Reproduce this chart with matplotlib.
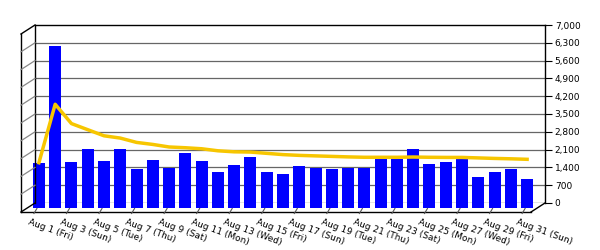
import numpy as np
import matplotlib.pyplot as plt
from matplotlib.lines import Line2D
from matplotlib.transforms import offset_copy
from matplotlib.ticker import FuncFormatter

days = ['Aug %d (%s)' % (d, w) for d, w in zip(range(1, 32),
        ['Fri', 'Sat', 'Sun', 'Mon', 'Tue', 'Wed', 'Thu'] * 5)]
tick_days = days[::2]

daily = [1760, 6350, 1800, 2320, 1840, 2320, 1530, 1880, 1570, 2160, 1840,
         1410, 1690, 2000, 1410, 1330, 1650, 1570, 1500, 1570, 1570, 1920,
         1920, 2320, 1730, 1800, 1920, 1210, 1410, 1500, 1130]
running_avg = [1760, 4060, 3300, 3060, 2820, 2730, 2560, 2480, 2380, 2350,
               2310, 2230, 2190, 2180, 2130, 2080, 2050, 2030, 2010, 1990,
               1975, 1975, 1975, 1985, 1975, 1970, 1970, 1950, 1930, 1915, 1895]

W, H = 600, 250
# back wall in pixels (from top-left)
left, right, top, bottom = 35, 545, 25, 203
DX, DY = -14, -9   # depth offset of the front plane (display dots)

fig = plt.figure(figsize=(6, 2.5), dpi=100)
ax = fig.add_axes([left / W, 1 - bottom / H, (right - left) / W, (bottom - top) / H])
ax.set_facecolor('white')

x = np.arange(len(daily))
ax.set_xlim(-0.67, len(daily) - 1 + 0.67)
ax.set_ylim(0, 7000)

yticks = np.arange(0, 7001, 700)
ax.set_yticks(yticks)
ax.yaxis.tick_right()
ax.yaxis.set_major_formatter(FuncFormatter(lambda v, p: '{:,.0f}'.format(v)))
ax.tick_params(axis='y', length=5, width=0.8, pad=2, labelsize=6.5, colors='black')
ax.set_xticks([])
for s in ['left', 'bottom']:
    ax.spines[s].set_visible(False)
for s in ['top', 'right']:
    ax.spines[s].set_linewidth(1)
    ax.spines[s].set_color('black')

for v in yticks[:-1]:
    ax.axhline(v, color='#666666' if v else '#222222', lw=0.9, zorder=1)

half = offset_copy(ax.transData, fig=fig, x=DX / 2, y=DY / 2, units='dots')
ax.bar(x, daily, width=0.74, color='#0000FF', transform=half, clip_on=False, zorder=3)
ax.plot(x, running_avg, color='#F7C600', lw=2.5, transform=half, clip_on=False,
        zorder=4, solid_joinstyle='round')

# 3D box edges, computed in display coordinates
def px(tr, pt):
    return tr.transform(pt)

def seg(p, q, color='black', lw=1.0):
    fig.add_artist(Line2D([p[0], q[0]], [p[1], q[1]], color=color, lw=lw,
                          transform=None, zorder=5))

ta = ax.transAxes
d = np.array([DX, DY])
bl, tl, br = px(ta, (0, 0)), px(ta, (0, 1)), px(ta, (1, 0))
seg(tl, bl)
seg(tl, tl + d)
seg(tl + d, bl + d)
seg(bl, bl + d)
seg(bl + d, br + d)
seg(br, br + d)
for v in yticks[1:-1]:
    p = px(ax.transData, (ax.get_xlim()[0], v))
    seg(p, p + d, color='#888888', lw=0.9)

# category ticks and labels on the front plane
for i in range(0, len(days), 2):
    p = px(ax.transData, (i, 0))
    seg(p + np.array([-9, -5.5]), p + np.array([-12, -10.5]), color='#555555', lw=0.8)

lab = offset_copy(ax.transData, fig=fig, x=-16, y=-15, units='dots')
for i, t in zip(range(0, len(days), 2), tick_days):
    ax.text(i, 0, t, transform=lab, rotation=-20, rotation_mode='anchor',
            ha='left', va='top', fontsize=6.5, clip_on=False)

fig.savefig('out.png', dpi=100)
